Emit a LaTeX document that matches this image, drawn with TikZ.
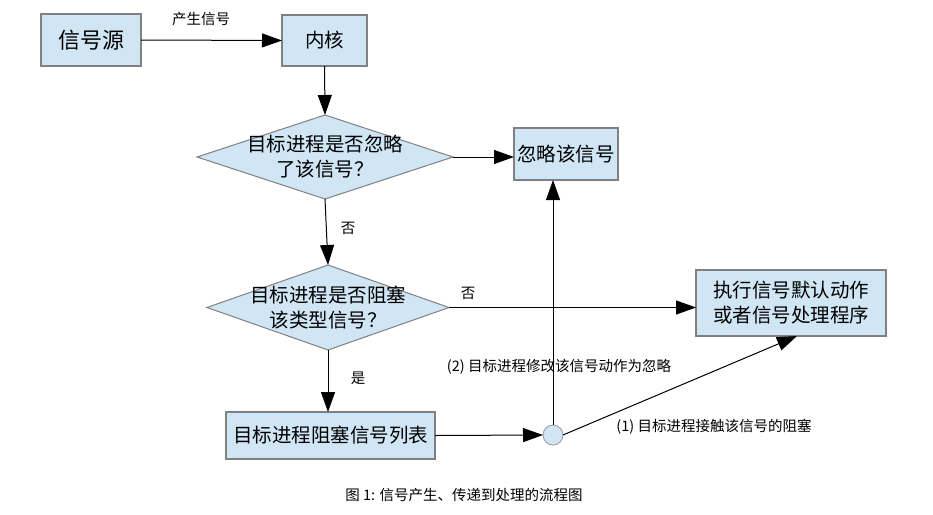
\documentclass[tikz,border=0pt]{standalone}
\usepackage{fontspec}
\setmainfont{Noto Sans CJK SC}
\usetikzlibrary{arrows.meta,shapes.geometric}
\definecolor{boxfill}{RGB}{208,230,244}
\definecolor{boxline}{RGB}{128,128,128}
\tikzset{
  box/.style={draw=boxline,line width=1.2pt,fill=boxfill,inner sep=0pt,outer sep=0pt,font=\fontsize{19.5}{25}\selectfont,align=center},
  dia/.style={diamond,draw=boxline,line width=1pt,fill=boxfill,inner sep=0pt,outer sep=0pt},
  diatext/.style={font=\fontsize{19.5}{25}\selectfont,align=center,inner sep=0pt},
  lbl/.style={font=\fontsize{14.5}{17}\selectfont,inner sep=0pt},
  arr/.style={line width=1pt,-{Triangle[length=20pt,width=14pt]}},
  ln/.style={line width=1pt}
}
\begin{document}
\begin{tikzpicture}[x=1pt,y=-1pt]
\useasboundingbox[fill=white] (0,0) rectangle (933,514);
% nodes
\node[box,minimum width=100pt,minimum height=52pt,font=\fontsize{22}{26}\selectfont] (src) at (91,40) {信号源};
\node[box,minimum width=85pt,minimum height=51pt] (ker) at (324.5,40.5) {内核};
\node[dia,minimum width=256pt,minimum height=84pt] (d1) at (325,157) {};
\node[diatext] (d1t) at (325,157) {目标进程是否忽略\\了该信号？};
\node[box,minimum width=104pt,minimum height=52pt] (ign) at (566,154) {忽略该信号};
\node[dia,minimum width=242pt,minimum height=85pt] (d2) at (328,307.5) {};
\node[diatext] (d2t) at (328,307.5) {目标进程是否阻塞\\该类型信号？};
\node[box,minimum width=190pt,minimum height=66pt] (def) at (791,303) {执行信号默认动作\\或者信号处理程序};
\node[box,minimum width=209pt,minimum height=47pt] (blk) at (330.5,435.5) {目标进程阻塞信号列表};
\node[circle,draw=boxline!80,line width=0.8pt,fill=boxfill,minimum size=20pt,inner sep=0pt,outer sep=0pt] (c) at (553,435) {};
\coordinate (tip) at (797,336);
% connectors
\draw[arr] (src.east) -- (ker.west);
\draw[arr] (ker.south) -- (d1.north);
\draw[arr] (d1.east) -- (d1.east -| ign.west);
\draw[arr] (d1.south) -- (d2.north);
\draw[arr] (d2.east) -- (d2.east -| def.west);
\draw[arr] (d2.south) -- (blk.north -| d2.south);
\draw[arr] (blk.east) -- (c.west);
\draw[arr] (c.north) -- (c.north |- ign.south);
\draw[arr] (c.east) -- (tip);
% labels
\node[lbl] (l1) at (201,19) {产生信号};
\node[lbl] (l2) at (348,228) {否};
\node[lbl] (l3) at (468,293) {否};
\node[lbl] (l4) at (358,378) {是};
\node[lbl] (l5) at (559,367) {(2) 目标进程修改该信号动作为忽略};
\node[lbl] (l6) at (714,427) {(1) 目标进程接触该信号的阻塞};
\node[lbl] (cap) at (464,495) {图 1: 信号产生、传递到处理的流程图};
\end{tikzpicture}
\end{document}
